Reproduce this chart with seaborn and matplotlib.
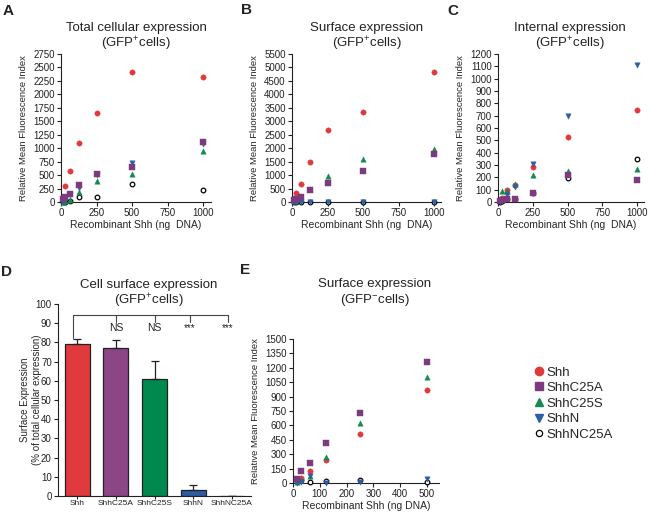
import pandas as pd
import seaborn as sns
import matplotlib.pyplot as plt
from matplotlib.lines import Line2D

# doses (ng DNA)
dose = [15.625, 31.25, 62.5, 125, 250, 500, 1000]
dose_e = [15.625, 31.25, 62.5, 125, 250, 500]
constructs = ['Shh', 'ShhC25A', 'ShhC25S', 'ShhN', 'ShhNC25A']

# A - total cellular expression (GFP+)
total = {
    'Shh':      [65, 298, 583, 1092, 1645, 2414, 2321],
    'ShhC25A':  [50, 87, 149, 316, 521, 658, 1117],
    'ShhC25S':  [0, 18, 37, 192, 391, 515, 950],
    'ShhN':     [6, 37, 130, 267, 497, 732, 1080],
    'ShhNC25A': [0, 0, 18, 87, 87, 329, 223],
}
# B - surface expression (GFP+)
surface = {
    'Shh':      [112, 348, 671, 1503, 2683, 3329, 4820],
    'ShhC25A':  [75, 100, 199, 447, 696, 1155, 1801],
    'ShhC25S':  [25, 75, 124, 472, 969, 1615, 1963],
    'ShhN':     [0, 0, 0, 0, 0, 0, 0],
    'ShhNC25A': [0, 0, 0, 0, 0, 0, 0],
}
# C - internal expression (GFP+)
internal = {
    'Shh':      [16, 30, 98, 138, 287, 531, 748],
    'ShhC25A':  [5, 16, 22, 27, 76, 222, 179],
    'ShhC25S':  [16, 87, 89, 144, 222, 255, 271],
    'ShhN':     [0, 16, 57, 125, 306, 694, 1108],
    'ShhNC25A': [0, 8, 22, 24, 76, 198, 347],
}
# E - surface expression (GFP-)
surface_neg = {
    'Shh':      [24, 49, 122, 236, 510, 969],
    'ShhC25A':  [42, 122, 205, 417, 733, 1260],
    'ShhC25S':  [10, 35, 76, 267, 625, 1101],
    'ShhN':     [3, 14, 69, 5, 10, 42],
    'ShhNC25A': [17, 28, 7, 17, 35, 10],
}
# D - % surface of total
pct_surface = [79, 77, 61, 3, 0]
pct_err = [3, 4.5, 9.5, 2.5, 0]
signif = ['', 'NS', 'NS', '***', '***']

colors = {'Shh': '#e0393c', 'ShhC25A': '#7b3b7e', 'ShhC25S': '#138a50',
          'ShhN': '#2d5ea6', 'ShhNC25A': 'white'}
bar_colors = ['#e03a3e', '#8c4686', '#00894f', '#2b5ca8', 'white']
markers = {'Shh': 'o', 'ShhC25A': 's', 'ShhC25S': '^', 'ShhN': 'v', 'ShhNC25A': 'o'}
draw_order = ['ShhNC25A', 'Shh', 'ShhC25S', 'ShhN', 'ShhC25A']

sns.set_style('ticks')
plt.rcParams['font.family'] = ['Liberation Sans', 'DejaVu Sans']
plt.rcParams['mathtext.fontset'] = 'custom'
plt.rcParams['mathtext.rm'] = 'Liberation Sans'
plt.rcParams['axes.linewidth'] = 0.8

W, H = 652, 513
fig = plt.figure(figsize=(W / 100, H / 100), dpi=100)


def px(l, t, r, b):
    return [l / W, 1 - b / H, (r - l) / W, (b - t) / H]


def style_axes(ax):
    sns.despine(ax=ax)
    ax.tick_params(length=3, width=0.8, pad=1.5, labelsize=7, colors='#222222')
    for s in ax.spines.values():
        s.set_color('#222222')


def scatter_panel(ax, x, values, xmax, ymax, ystep, xstep, xlabel):
    for name in draw_order:
        df = pd.DataFrame({'dose': x, 'mfi': values[name]})
        if name == 'ShhNC25A':
            sns.scatterplot(data=df, x='dose', y='mfi', ax=ax, marker='o',
                            color='white', edgecolor='black', linewidth=0.9,
                            s=11, clip_on=False, zorder=3, legend=False)
        else:
            sns.scatterplot(data=df, x='dose', y='mfi', ax=ax, marker=markers[name],
                            color=colors[name], edgecolor=colors[name], linewidth=0.3,
                            s=15, clip_on=False, zorder=3, legend=False)
    ax.set_xlim(0, xmax)
    ax.set_ylim(0, ymax)
    ax.set_yticks(range(0, ymax + 1, ystep))
    ax.set_xticks(range(0, int(xmax) + 1, xstep))
    ax.set_xlabel(xlabel, fontsize=7.5, labelpad=1)
    ax.set_ylabel('Relative Mean Fluorescence Index', fontsize=6.8, labelpad=4)
    style_axes(ax)


axA = fig.add_axes(px(61, 54, 211, 202))
scatter_panel(axA, dose, total, 1056, 2750, 250, 250, 'Recombinant Shh (ng  DNA)')
axB = fig.add_axes(px(292, 54, 441, 202))
scatter_panel(axB, dose, surface, 1049, 5500, 500, 250, 'Recombinant Shh (ng  DNA)')
axC = fig.add_axes(px(498, 54, 644, 202))
scatter_panel(axC, dose, internal, 1050, 1200, 100, 250, 'Recombinant Shh (ng  DNA)')
axE = fig.add_axes(px(293, 339, 439, 483))
scatter_panel(axE, dose_e, surface_neg, 545, 1500, 150, 100, 'Recombinant Shh (ng DNA)')

# D - bar chart
axD = fig.add_axes(px(58, 304, 251, 496))
sns.barplot(x=constructs, y=pct_surface, hue=constructs, palette=bar_colors,
            saturation=1, legend=False, width=0.65, edgecolor='#222222',
            linewidth=0.9, ax=axD)
axD.errorbar(range(len(constructs)), pct_surface, yerr=[[0] * 5, pct_err],
             fmt='none', ecolor='#222222', elinewidth=0.9, capsize=3.2, capthick=0.9)
axD.set_xlim(-0.5, 4.5)
axD.set_ylim(0, 100)
axD.set_yticks(range(0, 101, 10))
axD.set_ylabel('Surface Expression\n(% of total cellular expression)', fontsize=7,
               linespacing=1.15)
style_axes(axD)
axD.yaxis.set_label_coords(-0.085, 0.5)
axD.tick_params(axis='x', labelsize=6, length=2, pad=1)

# significance bracket
br_x = [-0.12, 1.0, 2.0, 2.92, 3.9]
axD.plot([br_x[0], br_x[-1]], [94.3, 94.3], color='#444444', lw=0.8, clip_on=False)
axD.plot([br_x[0], br_x[0]], [94.3, 82.3], color='#444444', lw=0.8)
for bx, lab in zip(br_x[1:], signif[1:]):
    axD.plot([bx, bx], [94.3, 90.6], color='#444444', lw=0.8, clip_on=False)
    axD.text(bx, 87.5, lab, ha='center', va='center', fontsize=7.5 if lab == 'NS' else 7,
             color='#222222')

# titles
titles = [
    (136, 'Total cellular expression', '(GFP$^{+}$cells)', 28),
    (367, 'Surface expression', '(GFP$^{+}$cells)', 28),
    (570, 'Internal expression', '(GFP$^{+}$cells)', 28),
    (149, 'Cell surface expression', '(GFP$^{+}$cells)', 285),
    (375, 'Surface expression', '(GFP$^{-}$cells)', 284),
]
for cx, t1, t2, ty in titles:
    fig.text(cx / W, 1 - ty / H, t1, ha='center', va='center', fontsize=9.5, color='#222222')
    fig.text(cx / W, 1 - (ty + 16) / H, t2, ha='center', va='center', fontsize=9.5,
             color='#222222')

for (lx, ly), letter in zip([(8, 11), (246, 10), (453, 11), (7, 272), (245, 270)], 'ABCDE'):
    fig.text(lx / W, 1 - ly / H, letter, ha='center', va='center', fontsize=11,
             fontweight='bold', color='#222222')

# legend
handles = []
for name in constructs:
    if name == 'ShhNC25A':
        h = Line2D([], [], ls='none', marker='o', mfc='white', mec='black', mew=0.9, ms=4.5)
    else:
        h = Line2D([], [], ls='none', marker=markers[name], mfc=colors[name],
                   mec=colors[name], ms=6)
    handles.append(h)
fig.legend(handles, constructs, loc='upper left', bbox_to_anchor=(527 / W, 1 - 361 / H),
           frameon=False, fontsize=9.5, handletextpad=0.1, labelspacing=0.25,
           handlelength=1.0, borderaxespad=0)

fig.savefig('out.png', dpi=100)
